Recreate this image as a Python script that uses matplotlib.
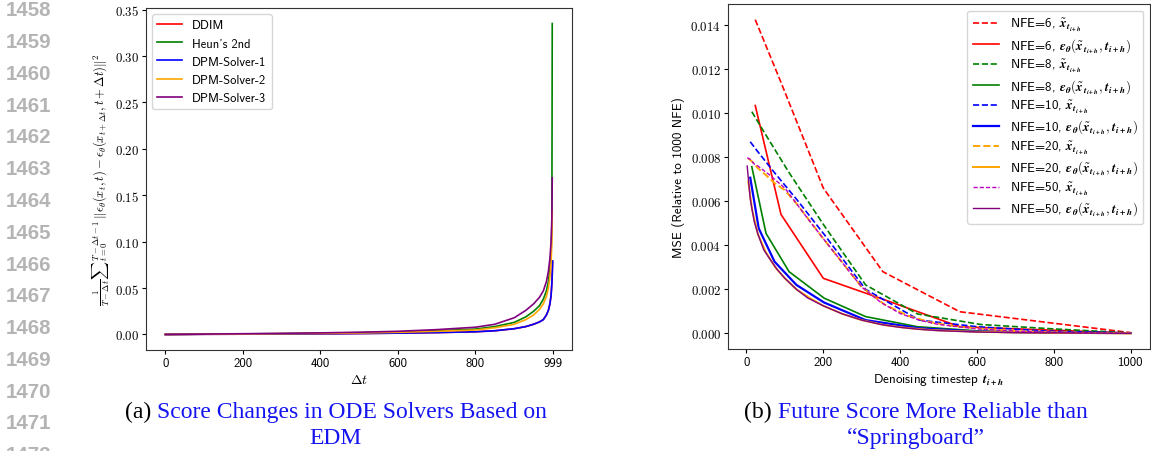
import matplotlib
matplotlib.use("Agg")
import matplotlib.pyplot as plt
from matplotlib.ticker import FuncFormatter

plt.rcParams['mathtext.fontset'] = 'cm'
plt.rcParams['font.family'] = 'cmss10'
plt.rcParams['axes.unicode_minus'] = False

# ---------------- left panel: score change vs delta t ----------------
dt = [0, 100, 200, 300, 400, 500, 600, 700, 800, 850, 900, 930, 950, 965,
      975, 983, 988, 992, 995, 997, 998, 999]
ddim = [0, 0.0002, 0.0003, 0.0005, 0.0007, 0.001, 0.0014, 0.002, 0.0029, 0.004,
        0.0062, 0.0085, 0.011, 0.0135, 0.016, 0.021, 0.026, 0.033, 0.042, 0.055,
        0.065, 0.079]
heun = [0, 0.0003, 0.0006, 0.0009, 0.0013, 0.0019, 0.0027, 0.004, 0.0058, 0.0085,
        0.013, 0.019, 0.025, 0.031, 0.038, 0.047, 0.057, 0.07, 0.088, 0.115, 0.335]
dpm1 = [0, 0.0002, 0.0003, 0.0005, 0.0007, 0.001, 0.0014, 0.002, 0.0029, 0.004,
        0.0062, 0.0085, 0.011, 0.0135, 0.016, 0.021, 0.026, 0.033, 0.042, 0.055,
        0.065, 0.079]
dpm2 = [0, 0.0003, 0.0005, 0.0008, 0.0011, 0.0016, 0.0023, 0.0034, 0.0048, 0.0072,
        0.011, 0.016, 0.021, 0.027, 0.033, 0.041, 0.05, 0.062, 0.078, 0.1, 0.1325]
dpm3 = [0, 0.0004, 0.0008, 0.0012, 0.0017, 0.0024, 0.0034, 0.0052, 0.0078, 0.011,
        0.018, 0.026, 0.033, 0.04, 0.047, 0.057, 0.068, 0.082, 0.1, 0.125, 0.1687]
left_ticks = [0, 200, 400, 600, 800, 999]

# ---------------- right panel: MSE vs denoising timestep ----------------
t6 = [23, 90, 200, 355, 555, 1000]
x6 = [0.01425, 0.0114, 0.0066, 0.0028, 0.00098, 0.00003]
e6 = [0.01035, 0.0054, 0.0025, 0.00155, 0.0003, 0.00001]

t8 = [14, 51, 111, 202, 310, 445, 610, 800, 1000]
x8 = [0.01007, 0.009, 0.0073, 0.0049, 0.0022, 0.00088, 0.0004, 0.0002, 0.00002]
e8 = [0.00757, 0.00454, 0.0028, 0.0016, 0.00076, 0.0003, 0.0001, 0.00004, 0.00001]

t10 = [10, 32, 73, 130, 202, 310, 450, 600, 780, 1000]
x10 = [0.0087, 0.0082, 0.0073, 0.0061, 0.0045, 0.002, 0.0006, 0.0003, 0.0001, 0.00001]
e10 = [0.00707, 0.00477, 0.00326, 0.0022, 0.0014, 0.0006, 0.00023, 0.00008, 0.00003, 0.00001]

t20 = [5, 15, 30, 50, 75, 100, 130, 165, 200, 250, 300, 360, 420, 480, 550, 620,
       700, 790, 890, 1000]
x20 = [0.00795, 0.0078, 0.0075, 0.0072, 0.0068, 0.0065, 0.0059, 0.0051, 0.0043,
       0.0032, 0.0021, 0.0013, 0.0008, 0.0005, 0.0003, 0.0002, 0.0001, 0.00005,
       0.00002, 0.0]
e20 = [0.0069, 0.0056, 0.0045, 0.0037, 0.003, 0.0025, 0.002, 0.0016, 0.00125,
       0.00088, 0.0006, 0.00037, 0.00024, 0.00015, 0.0001, 0.00006, 0.00004,
       0.00002, 0.00001, 0.0]

t50 = [2, 10, 20, 30, 45, 60, 80, 100, 130, 160, 200, 250, 300, 350, 400, 450,
       500, 600, 700, 800, 900, 1000]
x50 = [0.00798, 0.0079, 0.0077, 0.0076, 0.0074, 0.0072, 0.0069, 0.0066, 0.0059,
       0.0052, 0.0043, 0.0032, 0.0021, 0.0014, 0.0009, 0.0006, 0.0004, 0.0002,
       0.0001, 0.00005, 0.00002, 0.0]
e50 = [0.0076, 0.0061, 0.0051, 0.0045, 0.0038, 0.0034, 0.0029, 0.0025, 0.002,
       0.0016, 0.00125, 0.00088, 0.0006, 0.0004, 0.00027, 0.00018, 0.00012,
       0.00006, 0.00003, 0.00002, 0.00001, 0.0]

line_numbers = list(range(1458, 1473))

W, H = 1151, 452
fig = plt.figure(figsize=(W / 100, H / 100), dpi=100)

ymath = FuncFormatter(lambda v, p: "$%.2f$" % v)
ymath3 = FuncFormatter(lambda v, p: "$%.3f$" % v)

# left axes
ax1 = fig.add_axes([146 / W, 1 - 351 / H, 426 / W, 342 / H])
ax1.plot(dt, ddim, color='red', lw=1.2, label='DDIM')
ax1.plot(dt[:-1], heun, color='green', lw=1.2, label="Heun's 2nd")
ax1.plot(dt, dpm1, color='blue', lw=1.2, label='DPM-Solver-1')
ax1.plot(dt[:-1], dpm2, color='orange', lw=1.2, label='DPM-Solver-2')
ax1.plot(dt[:-1], dpm3, color='purple', lw=1.2, label='DPM-Solver-3')
ax1.set_xticks(left_ticks)
ax1.set_yticks([0, 0.05, 0.1, 0.15, 0.2, 0.25, 0.3, 0.35])
ax1.yaxis.set_major_formatter(ymath)
ax1.set_xlabel(r'$\Delta t$', fontsize=10, labelpad=2)
ax1.set_ylabel(r'$\frac{1}{T-\Delta t}\sum{}_{t=0}^{T-\Delta t-1}\,\|\epsilon_\theta(x_t,t)-\epsilon_\theta(x_{t+\Delta t},t+\Delta t)\|^2$',
               fontsize=9, labelpad=2)
ax1.legend(loc='upper left', fontsize=9)

# right axes
ax2 = fig.add_axes([728 / W, 1 - 350 / H, 422 / W, 345 / H])
xt = r'$\tilde{\mathbfit{x}}_{\mathbfit{t}_{\mathbfit{i+h}}}$'
et = r'$\mathbfit{\epsilon}_{\mathbfit{\theta}}(\tilde{\mathbfit{x}}_{\mathbfit{t}_{\mathbfit{i+h}}}, \mathbfit{t}_{\mathbfit{i+h}})$'
ax2.plot(t6, x6, '--', color='red', lw=1.2, label='NFE=6, ' + xt)
ax2.plot(t6, e6, '-', color='red', lw=1.2, label='NFE=6, ' + et)
ax2.plot(t8, x8, '--', color='green', lw=1.2, label='NFE=8, ' + xt)
ax2.plot(t8, e8, '-', color='green', lw=1.2, label='NFE=8, ' + et)
ax2.plot(t10, x10, '--', color='blue', lw=1.2, label='NFE=10, ' + xt)
ax2.plot(t10, e10, '-', color='blue', lw=1.6, label='NFE=10, ' + et)
ax2.plot(t20, x20, '--', color='orange', lw=1.4, label='NFE=20, ' + xt)
ax2.plot(t20, e20, '-', color='orange', lw=1.4, label='NFE=20, ' + et)
ax2.plot(t50, x50, '--', color='m', lw=1.0, dashes=(3, 1.5), label='NFE=50, ' + xt)
ax2.plot(t50, e50, '-', color='purple', lw=1.0, label='NFE=50, ' + et)
ax2.set_xticks([0, 200, 400, 600, 800, 1000])
ax2.set_yticks([0, 0.002, 0.004, 0.006, 0.008, 0.01, 0.012, 0.014])
ax2.yaxis.set_major_formatter(ymath3)
ax2.set_xlabel(r'Denoising timestep $\mathbfit{t}_{\mathbfit{i+h}}$', fontsize=9.5, labelpad=2)
ax2.set_ylabel('MSE (Relative to 1000 NFE)', fontsize=9.5, labelpad=4)
ax2.legend(loc='upper right', fontsize=9.4, labelspacing=0.2, borderpad=0.45)

for ax in (ax1, ax2):
    ax.tick_params(labelsize=9.2, length=3, pad=2)
    for s in ax.spines.values():
        s.set_color('#333333')

# line numbers of the page
for k, n in enumerate(line_numbers):
    fig.text(6 / W, 1 - (10.8 + 31.78 * k) / H, str(n), fontsize=14.8,
             fontweight='bold', family='Liberation Sans', color='#b4b4b4',
             ha='left', va='center')

# captions with black label and blue text
r = fig.canvas.get_renderer()


def caption(cx, lines):
    for i, (lab, txt) in enumerate(lines):
        y = 1 - (418.5 + 26 * i) / H
        parts = []
        if lab:
            parts.append(fig.text(0, y, lab, color='black', fontsize=17,
                                  family='Liberation Serif', va='baseline'))
        parts.append(fig.text(0, y, txt, color='#1414f0', fontsize=17,
                              family='Liberation Serif', va='baseline'))
        widths = [p.get_window_extent(r).width for p in parts]
        x0 = cx - sum(widths) / 2
        for p, w in zip(parts, widths):
            p.set_x(x0 / W)
            x0 += w


caption(335.5, [('(a) ', 'Score Changes in ODE Solvers Based on'), ('', 'EDM')])
caption(916, [('(b) ', 'Future Score More Reliable than'), ('', '\u201cSpringboard\u201d')])

fig.savefig('out.png', dpi=100)
